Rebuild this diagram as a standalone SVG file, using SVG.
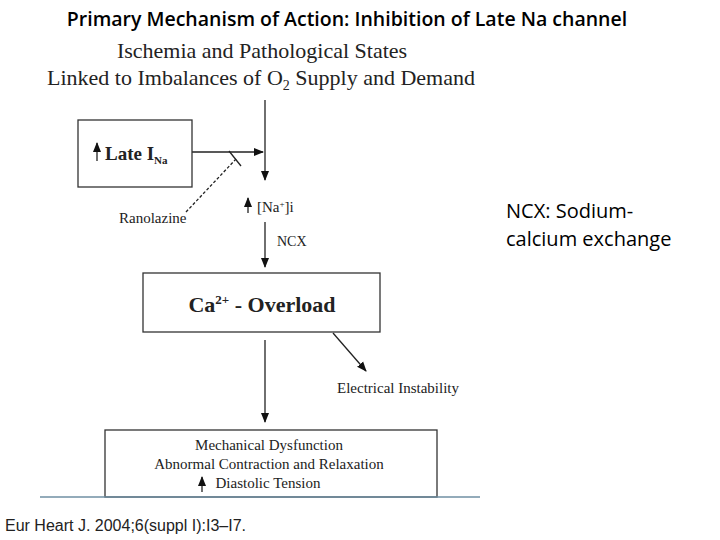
<svg xmlns="http://www.w3.org/2000/svg" width="720" height="540" viewBox="0 0 720 540">
<style>
.s{font-family:"Liberation Serif",serif;fill:#222}
.c{font-family:"Open Sans","Liberation Sans",sans-serif;fill:#000}
.b{fill:#fff;stroke:#333;stroke-width:1.3}
.l{stroke:#222;stroke-width:1.3;fill:none}
</style>
<defs><marker id="a" markerWidth="10" markerHeight="10" refX="9" refY="5" orient="auto" markerUnits="userSpaceOnUse"><path d="M0,1 L10,5 L0,9 Z" fill="#111"/></marker></defs>
<rect width="720" height="540" fill="#fff"/>
<text class="c" x="347" y="26" font-size="19.5" font-weight="600" text-anchor="middle">Primary Mechanism of Action: Inhibition of Late Na channel</text>
<text class="s" x="262" y="58" font-size="22" text-anchor="middle">Ischemia and Pathological States</text>
<text class="s" x="261" y="85" font-size="22" text-anchor="middle">Linked to Imbalances of O<tspan font-size="14" dy="5">2</tspan><tspan dy="-5"> Supply and Demand</tspan></text>
<g id="connectors">
<line class="l" x1="265" y1="100" x2="265" y2="180" marker-end="url(#a)"/>
<line class="l" x1="192" y1="152" x2="263" y2="152" marker-end="url(#a)"/>
<line class="l" x1="229" y1="151" x2="241" y2="166"/>
<line class="l" x1="186" y1="212" x2="236" y2="159" stroke-dasharray="3,2" stroke-width="1"/>
<line class="l" x1="265" y1="222" x2="265" y2="267" marker-end="url(#a)"/>
<line class="l" x1="333" y1="333" x2="366" y2="371" marker-end="url(#a)"/>
<line class="l" x1="265" y1="340" x2="265" y2="422" marker-end="url(#a)"/>
<line class="l" x1="248" y1="213" x2="248" y2="198" marker-end="url(#a)" stroke-width="1.5"/>
</g>
<g id="late">
<rect class="b" x="78" y="120" width="114" height="67"/>
<line class="l" x1="97" y1="161" x2="97" y2="143" marker-end="url(#a)" stroke-width="1.5"/>
<text class="s" x="105" y="160" font-size="19" font-weight="bold">Late I<tspan font-size="11" dy="4">Na</tspan></text>
</g>
<text class="s" x="119" y="223" font-size="15">Ranolazine</text>
<text class="s" x="257" y="212" font-size="15">[Na<tspan font-size="9" dy="-5">+</tspan><tspan dy="5">]i</tspan></text>
<text class="s" x="277" y="246" font-size="14">NCX</text>
<g id="ca">
<rect class="b" x="143" y="273" width="237" height="59"/>
<text class="s" x="262" y="312" font-size="22" font-weight="bold" text-anchor="middle">Ca<tspan font-size="13" dy="-8">2+</tspan><tspan dy="8"> - Overload</tspan></text>
</g>
<text class="s" x="337" y="393" font-size="15">Electrical Instability</text>
<g id="mech">
<rect class="b" x="105" y="430" width="332" height="67"/>
<text class="s" x="269" y="450" font-size="15" text-anchor="middle">Mechanical Dysfunction</text>
<text class="s" x="269" y="469" font-size="15" text-anchor="middle">Abnormal Contraction and Relaxation</text>
<text class="s" x="268" y="488" font-size="15" text-anchor="middle">Diastolic Tension</text>
<line class="l" x1="202" y1="492" x2="202" y2="477" marker-end="url(#a)" stroke-width="1.2"/>
</g>
<line x1="40" y1="497" x2="480" y2="497" stroke="#6f8fa3" stroke-width="1.3"/>
<text class="c" x="506" y="218" font-size="20">NCX: Sodium-</text>
<text class="c" x="506" y="246" font-size="20">calcium exchange</text>
<text x="5" y="531" font-family="Liberation Sans,sans-serif" font-size="16" fill="#222">Eur Heart J. 2004;6(suppl I):I3–I7.</text>
</svg>
